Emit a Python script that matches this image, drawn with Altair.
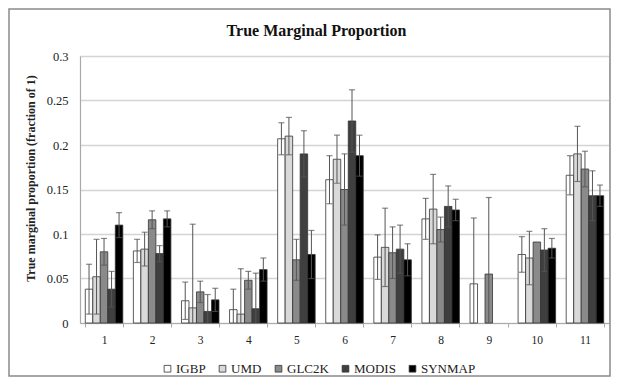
import altair as alt
import pandas as pd

categories = [str(i) for i in range(1, 12)]
series = ["IGBP", "UMD", "GLC2K", "MODIS", "SYNMAP"]

igbp = [0.038, 0.081, 0.025, 0.015, 0.207, 0.161, 0.074, 0.117, 0.044, 0.077, 0.166]
igbp_err = [0.028, 0.013, 0.021, 0.023, 0.018, 0.027, 0.025, 0.023, 0.074, 0.020, 0.022]
umd = [0.052, 0.083, 0.017, 0.010, 0.210, 0.184, 0.085, 0.128, None, 0.073, 0.190]
umd_err = [0.042, 0.019, 0.094, 0.051, 0.021, 0.027, 0.044, 0.039, None, 0.030, 0.031]
glc2k = [0.080, 0.116, 0.035, 0.048, 0.071, 0.150, 0.079, 0.105, 0.055, 0.091, 0.173]
glc2k_err = [0.015, 0.010, 0.012, 0.010, 0.023, 0.040, 0.029, 0.014, 0.086, None, 0.020]
modis = [0.038, 0.078, 0.013, 0.016, 0.190, 0.227, 0.083, 0.131, None, 0.082, 0.143]
modis_err = [0.020, 0.009, 0.019, 0.040, 0.026, 0.035, 0.027, 0.023, None, 0.024, 0.028]
synmap = [0.110, 0.117, 0.026, 0.060, 0.077, 0.188, 0.071, 0.127, None, 0.084, 0.143]
synmap_err = [0.014, 0.009, 0.013, 0.013, 0.027, 0.023, 0.018, 0.012, None, 0.011, 0.012]

y_ticks = [0, 0.05, 0.1, 0.15, 0.2, 0.25, 0.3]
colors = ["#ffffff", "#d9d9d9", "#8a8a8a", "#3f3f3f", "#000000"]

vals = [igbp, umd, glc2k, modis, synmap]
errs = [igbp_err, umd_err, glc2k_err, modis_err, synmap_err]

rows = []
for s, v_list, e_list in zip(series, vals, errs):
    for c, v, e in zip(categories, v_list, e_list):
        if v is None:
            continue
        r = {"cat": c, "series": s, "value": v}
        if e is not None:
            r["lo"] = v - e
            r["hi"] = v + e
        rows.append(r)
df = pd.DataFrame(rows)

serif = "Liberation Serif"

x_enc = alt.X("cat:N", sort=categories, title=None,
              scale=alt.Scale(paddingInner=0.22, paddingOuter=0.11),
              axis=alt.Axis(labelAngle=0, tickBand="extent", labelPadding=7,
                            labelFont=serif, labelFontSize=11.5, labelColor="#222",
                            domainColor="#aaa", domainWidth=1.2,
                            tickColor="#aaa", tickSize=4))
xo = alt.XOffset("series:N", sort=series, scale=alt.Scale(paddingInner=0, paddingOuter=0))

base = alt.Chart(df)

bars = base.mark_bar(stroke="#333", strokeWidth=0.8).encode(
    x=x_enc,
    xOffset=xo,
    y=alt.Y("value:Q", title="True marginal proportion (fraction of 1)",
            scale=alt.Scale(domain=[0, 0.3], nice=False),
            axis=alt.Axis(values=y_ticks, format="~g",
                          labelFont=serif, labelFontSize=12.5, labelColor="#222",
                          titleFont=serif, titleFontSize=12, titleFontWeight="bold",
                          titleColor="#222", titleX=-43, titleY=122, titleAlign="center",
                          gridColor="#d4d4d4", gridWidth=1.5,
                          domainColor="#aaa", domainWidth=1.2,
                          ticks=False, labelPadding=12)),
    color=alt.Color("series:N", sort=series,
                    scale=alt.Scale(domain=series, range=colors),
                    legend=alt.Legend(title=None, orient="none", direction="horizontal",
                                      legendX=81, legendY=306,
                                      symbolType="square", symbolSize=45,
                                      symbolStrokeColor="#333", symbolStrokeWidth=0.8,
                                      labelFont=serif, labelFontSize=13, labelColor="#222",
                                      columnPadding=10, labelOffset=2)),
)

errdf = base.transform_filter("isValid(datum.hi)")

rules = errdf.mark_rule(color="#555", strokeWidth=1, clip=True).encode(
    x=alt.X("cat:N", sort=categories),
    xOffset=xo,
    y="lo:Q",
    y2="hi:Q",
)
cap_hi = errdf.mark_tick(color="#555", size=6, thickness=1.2, orient="horizontal", clip=True).encode(
    x=alt.X("cat:N", sort=categories),
    xOffset=xo,
    y="hi:Q",
)
cap_lo = errdf.mark_tick(color="#555", size=6, thickness=1.2, orient="horizontal", clip=True).encode(
    x=alt.X("cat:N", sort=categories),
    xOffset=xo,
    y="lo:Q",
)

frame = alt.Chart(pd.DataFrame({"f": [0]})).mark_rect(
    fillOpacity=0, stroke="#8a8a8a", strokeWidth=1.5
).encode(
    x=alt.value(-71), x2=alt.value(530), y=alt.value(-47), y2=alt.value(320)
)

chart = alt.layer(frame, bars, rules, cap_hi, cap_lo).properties(
    width=529, height=267,
    title=alt.TitleParams("True Marginal Proportion", font=serif, fontSize=16,
                          fontWeight="bold", color="#111", offset=-31, dx=-28),
    padding={"left": 72, "top": 48, "right": 2, "bottom": 54},
    autosize=alt.AutoSizeParams(type="none"),
).configure_view(stroke=None).configure(background="white")

chart.save("out.html", embed_options={"renderer": "svg", "actions": False})
